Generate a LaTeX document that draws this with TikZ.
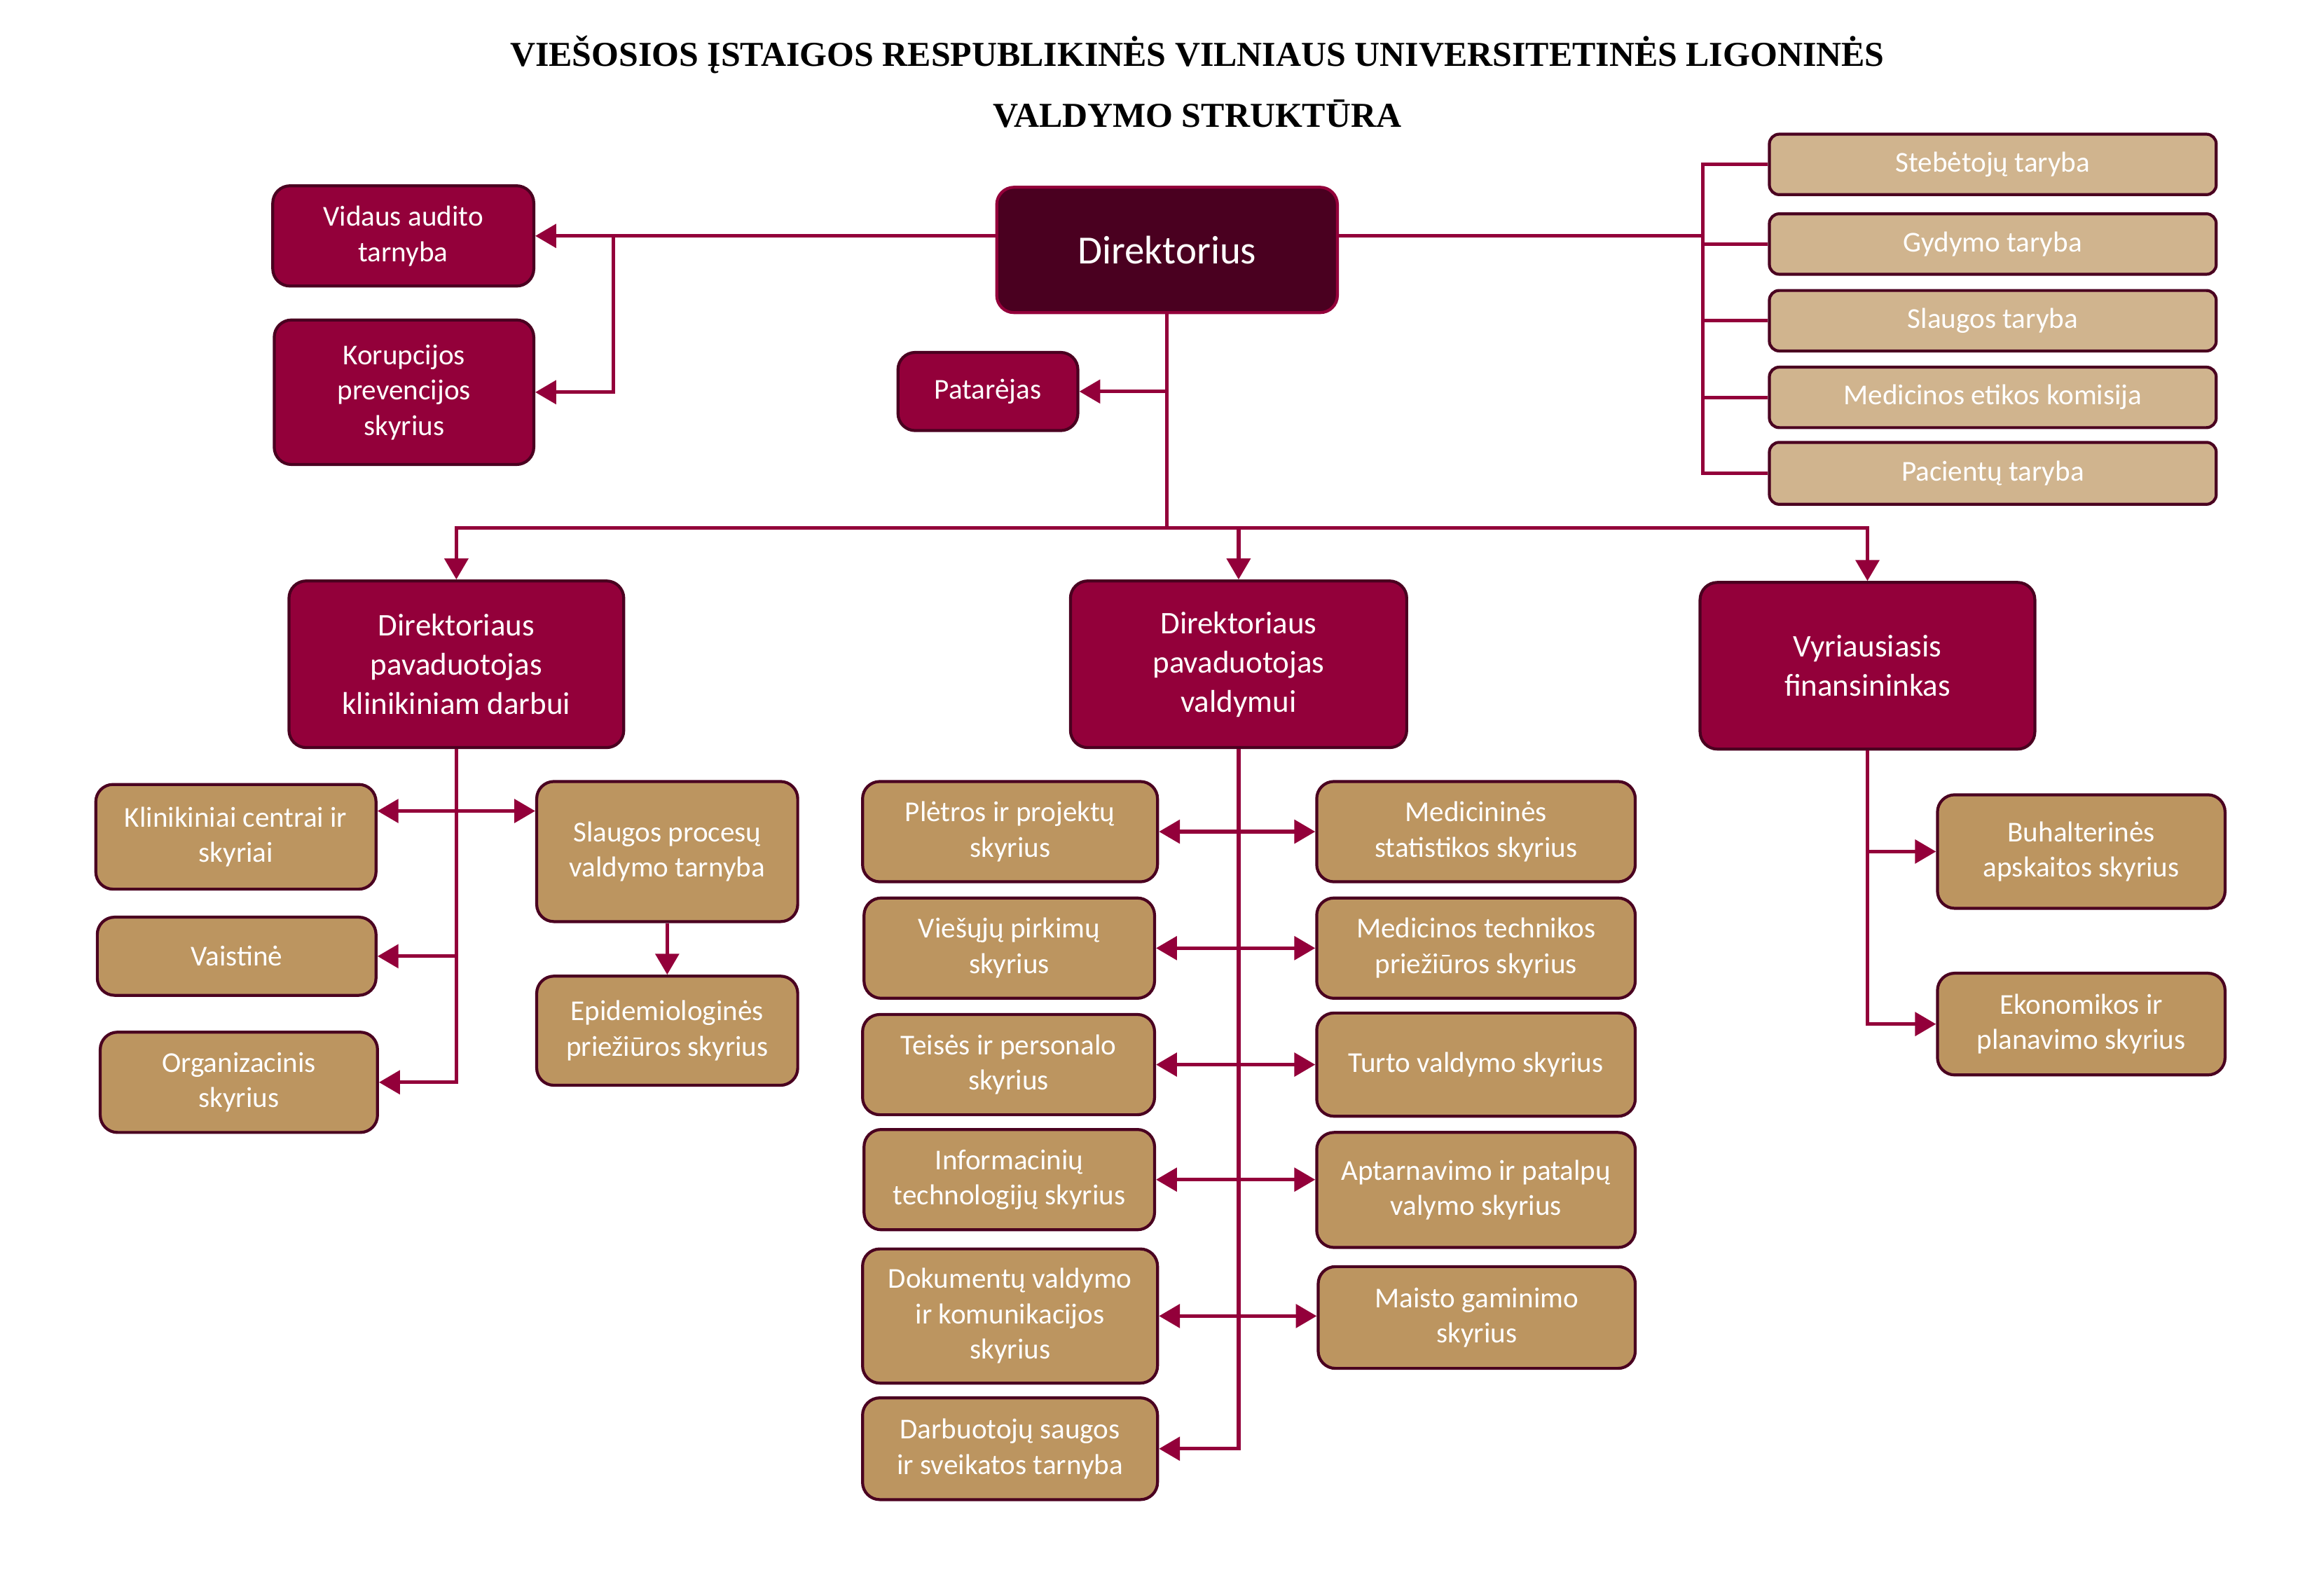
\documentclass[tikz,border=0pt]{standalone}
\usepackage{fontspec}
\setmainfont{Carlito}
\newfontfamily\titlefont{Liberation Serif}
\usetikzlibrary{arrows.meta}

\definecolor{crimson}{HTML}{93003A}
\definecolor{maroon}{HTML}{4A0020}
\definecolor{unittan}{HTML}{BC9560}
\definecolor{boardtan}{HTML}{D0B48E}

\begin{document}
\begin{tikzpicture}[
    x=0.021046cm, y=-0.021046cm,
    box/.style={rectangle, rounded corners=7pt, line width=1.2pt, draw=maroon, text=white, align=center, inner sep=0pt},
    sz/.style 2 args={minimum width=#1*0.5988pt, minimum height=#2*0.5988pt},
    head/.style={box, fill=maroon, draw=crimson, font=\fontsize{16.2}{19}\selectfont},
    deputy/.style={box, fill=crimson, font=\fontsize{12.8}{15.9}\selectfont},
    staff/.style={box, fill=crimson, font=\fontsize{11.7}{14.4}\selectfont},
    board/.style={box, rounded corners=4pt, fill=boardtan, font=\fontsize{11.7}{14}\selectfont},
    unit/.style={box, fill=unittan, font=\fontsize{11.7}{14.4}\selectfont},
    plain/.style={crimson, line width=1.5pt},
    arrow/.style={plain, -{Triangle[length=8.5pt, width=9.5pt]}},
    biarrow/.style={plain, {Triangle[length=8.5pt, width=9.5pt]}-{Triangle[length=8.5pt, width=9.5pt]}},
    heading/.style={font=\titlefont\bfseries\fontsize{14.2}{16}\selectfont}
]
    \useasboundingbox (0,0) rectangle (1568,1082);

    % title
    \node[heading] (t1) at (812,37) {VIEŠOSIOS ĮSTAIGOS RESPUBLIKINĖS VILNIAUS UNIVERSITETINĖS LIGONINĖS};
    \node[heading] (t2) at (812,77) {VALDYMO STRUKTŪRA};

    % top level
    \node[head, sz={231}{85}] (dir) at (791.5,169.5) {Direktorius};
    \node[staff, sz={177}{68}] (aud) at (273.5,160) {Vidaus audito\\tarnyba};
    \node[staff, sz={176}{98}] (kor) at (274,266) {Korupcijos\\prevencijos\\skyrius};
    \node[staff, sz={122}{53}] (pat) at (670,265.5) {Patarėjas};

    \node[board, sz={303}{41}] (b1) at (1351.5,111.5) {Stebėtojų taryba};
    \node[board, sz={303}{41}] (b2) at (1351.5,165.5) {Gydymo taryba};
    \node[board, sz={303}{41}] (b3) at (1351.5,217.5) {Slaugos taryba};
    \node[board, sz={303}{41}] (b4) at (1351.5,269.5) {Medicinos etikos komisija};
    \node[board, sz={303}{42}] (b5) at (1351.5,321) {Pacientų taryba};

    % deputies
    \node[deputy, sz={227}{113}] (dep1) at (309.5,450.5) {Direktoriaus\\pavaduotojas\\klinikiniam darbui};
    \node[deputy, sz={228}{113}] (dep2) at (840,450.5) {Direktoriaus\\pavaduotojas\\valdymui};
    \node[deputy, sz={227}{113}] (dep3) at (1266.5,451.5) {Vyriausiasis\\finansininkas};

    % clinical units
    \node[unit, sz={190}{71}] (kli) at (160,567.5) {Klinikiniai centrai ir\\skyriai};
    \node[unit, sz={189}{53}] (vai) at (160.5,648.5) {Vaistinė};
    \node[unit, sz={188}{68}] (org) at (162,734) {Organizacinis\\skyrius};
    \node[unit, sz={177}{95}] (sla) at (452.5,577.5) {Slaugos procesų\\valdymo tarnyba};
    \node[unit, sz={177}{74}] (epi) at (452.5,699) {Epidemiologinės\\priežiūros skyrius};

    % management units
    \node[unit, sz={200}{68}] (ple) at (685,564) {Plėtros ir projektų\\skyrius};
    \node[unit, sz={197}{68}] (vie) at (684.5,643) {Viešųjų pirkimų\\skyrius};
    \node[unit, sz={198}{68}] (tei) at (684,722) {Teisės ir personalo\\skyrius};
    \node[unit, sz={197}{68}] (inf) at (684.5,800) {Informacinių\\technologijų skyrius};
    \node[unit, sz={200}{91}] (dok) at (685,892.5) {Dokumentų valdymo\\ir komunikacijos\\skyrius};
    \node[unit, sz={200}{69}] (dar) at (685,982.5) {Darbuotojų saugos\\ir sveikatos tarnyba};
    \node[unit, sz={216}{68}] (mst) at (1001,564) {Medicininės\\statistikos skyrius};
    \node[unit, sz={216}{68}] (mte) at (1001,643) {Medicinos technikos\\priežiūros skyrius};
    \node[unit, sz={216}{70}] (tur) at (1001,722) {Turto valdymo skyrius};
    \node[unit, sz={216}{78}] (apt) at (1001,807) {Aptarnavimo ir patalpų\\valymo skyrius};
    \node[unit, sz={215}{69}] (mai) at (1001.5,893.5) {Maisto gaminimo\\skyrius};

    % finance units
    \node[unit, sz={195}{77}] (buh) at (1411.5,577.5) {Buhalterinės\\apskaitos skyrius};
    \node[unit, sz={195}{69}] (eko) at (1411.5,694.5) {Ekonomikos ir\\planavimo skyrius};

    % junctions
    \coordinate (ak) at (416,160);
    \coordinate (br) at (1155,160);
    \coordinate (bus) at (791.5,358);
    \coordinate (kc) at (309.5,550);

    % connectors from the director
    \draw[arrow] (dir.west |- aud.east) -- (aud.east);
    \draw[arrow] (ak) |- (kor.east);
    \draw[arrow] (dir.south |- pat.east) -- (pat.east);
    \draw[plain] (dir.east |- br) -- (br);
    \draw[plain] (b1.west) -| (br) |- (b5.west);
    \foreach \b in {b2,b3,b4}
        \draw[plain] (br |- \b.west) -- (\b.west);
    \draw[plain] (dir.south) -- (bus);
    \draw[arrow] (bus) -| (dep1.north);
    \draw[arrow] (bus) -| (dep3.north);
    \draw[arrow] (bus -| dep2.north) -- (dep2.north);

    % clinical branch
    \draw[arrow] (dep1.south) |- (org.east);
    \draw[arrow] (dep1.south |- vai.east) -- (vai.east);
    \draw[biarrow] (kli.east |- kc) -- (sla.west |- kc);
    \draw[arrow] (sla.south) -- (epi.north);

    % management branch
    \draw[arrow] (dep2.south) |- (dar.east);
    \foreach \l/\r in {ple/mst, vie/mte, tei/tur, inf/apt, dok/mai}
        \draw[biarrow] (\l.east) -- (\r.west |- \l.east);

    % finance branch
    \draw[arrow] (dep3.south) |- (eko.west);
    \draw[arrow] (dep3.south |- buh.west) -- (buh.west);
\end{tikzpicture}
\end{document}
